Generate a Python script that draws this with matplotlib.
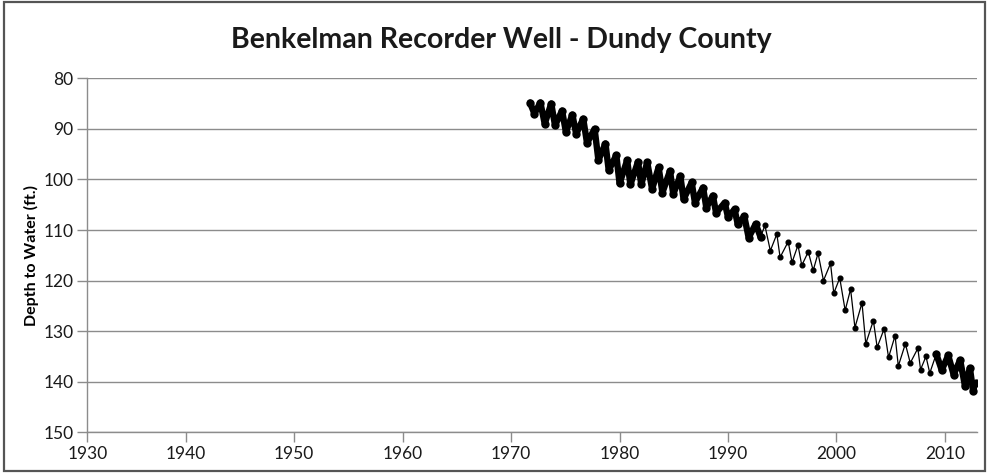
import matplotlib
matplotlib.use("Agg")
import matplotlib.pyplot as plt
from matplotlib.patches import Rectangle

# seasonal highs/lows (decimal year, depth in ft)
dates = [1971.74, 1972.15, 1972.70, 1973.10, 1973.70, 1974.05, 1974.70, 1975.05,
         1975.65, 1976.00, 1976.65, 1977.00, 1977.70, 1978.05, 1978.70, 1979.00,
         1979.70, 1980.00, 1980.70, 1981.00, 1981.70, 1982.00, 1982.55, 1983.00,
         1983.60, 1983.95, 1984.65, 1984.95, 1985.60, 1985.90, 1986.65, 1986.95,
         1987.70, 1988.00, 1988.60, 1988.90, 1989.70, 1990.00, 1990.60, 1990.90,
         1991.50, 1991.90, 1992.55, 1993.00, 1993.40, 1993.90, 1994.50, 1994.80,
         1995.55, 1995.90, 1996.45, 1996.80, 1997.40, 1997.85, 1998.30, 1998.80,
         1999.45, 1999.75, 2000.30, 2000.80, 2001.30, 2001.70, 2002.35, 2002.70,
         2003.40, 2003.75, 2004.40, 2004.80, 2005.40, 2005.70, 2006.35, 2006.80,
         2007.50, 2007.75, 2008.25, 2008.60, 2009.20, 2009.70, 2010.30, 2010.80,
         2011.40, 2011.85, 2012.30, 2012.60, 2012.85]
depths = [84.8, 87.0, 84.8, 89.0, 85.0, 89.3, 86.4, 90.6,
          87.2, 91.0, 88.0, 92.8, 90.0, 96.2, 92.9, 98.2,
          95.2, 100.8, 96.2, 101.0, 96.5, 101.0, 96.6, 101.9,
          97.6, 102.6, 98.3, 102.9, 99.3, 103.9, 100.6, 104.6,
          101.6, 105.6, 103.2, 106.6, 104.6, 107.5, 105.9, 108.9,
          107.3, 111.5, 108.8, 111.4, 109.1, 114.1, 110.8, 115.4,
          112.3, 116.4, 113.0, 117.0, 114.3, 118.0, 114.6, 120.0,
          116.6, 122.5, 119.5, 125.9, 121.7, 129.3, 124.4, 132.5,
          127.9, 133.2, 129.5, 135.2, 130.9, 136.9, 132.5, 136.3,
          133.4, 137.6, 135.0, 138.3, 134.5, 137.7, 134.8, 138.6,
          135.7, 140.9, 137.3, 141.9, 140.3]

# periods with continuous recorder data (drawn as a heavy band)
dense_periods = [(1971.0, 1993.3), (2008.9, 2013.0)]

x_min, x_max = 1930.93, 2012.93
y_ticks = [80, 90, 100, 110, 120, 130, 140, 150]
x_ticks = [x_min, 1940, 1950, 1960, 1970, 1980, 1990, 2000, 2010]
x_labels = ["1930", "1940", "1950", "1960", "1970", "1980", "1990", "2000", "2010"]

plt.rcParams['font.family'] = ['Lato', 'DejaVu Sans']

fig = plt.figure(figsize=(9.89, 4.74), dpi=100)
ax = fig.add_axes([0.0883, 0.088, 0.8993, 0.7468])

grid_c = "#8c8c8c"
ax.plot(dates, depths, '-', color='black', lw=0.9, marker='o', ms=3.4, zorder=3)
for a, b in dense_periods:
    sel = [(d, v) for d, v in zip(dates, depths) if a <= d <= b]
    xs, ys = zip(*sel)
    ax.plot(xs, ys, '-', color='black', lw=4.6, solid_joinstyle='round',
            solid_capstyle='round', marker='o', ms=5.0, zorder=4)

ax.set_xlim(x_min, x_max)
ax.set_ylim(150, 80)
ax.set_yticks(y_ticks)
ax.set_xticks(x_ticks)
ax.set_xticklabels(x_labels)
ax.yaxis.grid(True, color=grid_c, lw=1.0)
ax.set_axisbelow(True)

for s in ['top', 'right']:
    ax.spines[s].set_visible(False)
for s in ['left', 'bottom']:
    ax.spines[s].set_color(grid_c)
    ax.spines[s].set_linewidth(1.0)
ax.tick_params(axis='both', direction='out', length=7, width=1.0, color=grid_c,
               labelsize=12.5, labelcolor='#1a1a1a', pad=3)

ax.set_ylabel("Depth to Water (ft.)", fontsize=11.5, fontweight='bold', labelpad=3)
fig.text(0.507, 0.915, "Benkelman Recorder Well - Dundy County", ha='center', va='center',
         fontsize=20.5, fontweight='bold', color='#1a1a1a')

fig.patches.append(Rectangle((0.004, 0.006), 0.992, 0.99, transform=fig.transFigure,
                             fill=False, edgecolor='#555555', lw=1.6))

plt.savefig("out.png", dpi=100)
